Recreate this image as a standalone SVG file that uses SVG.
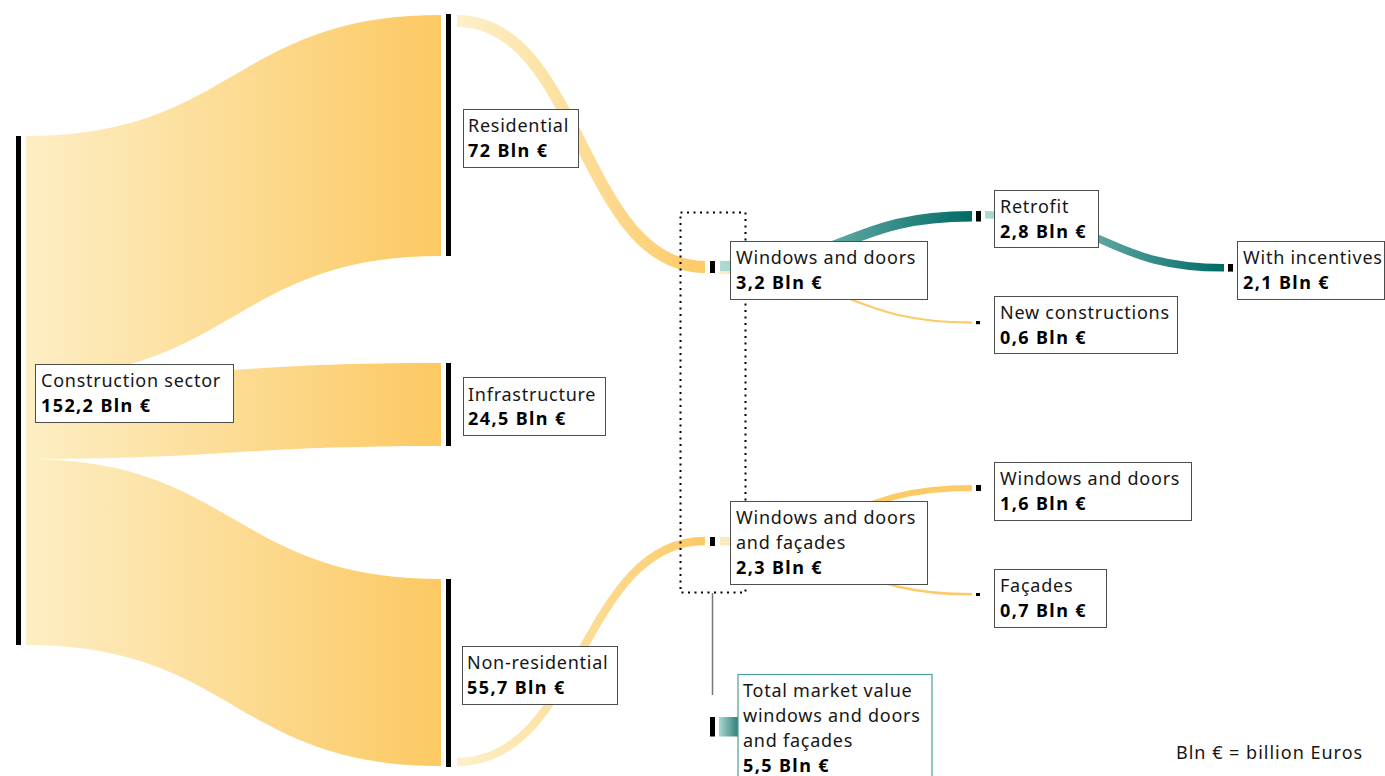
<svg xmlns="http://www.w3.org/2000/svg" width="1385" height="776" viewBox="0 0 1385 776">
  <defs>
    <style>
      .bar { fill: #000; }
      .box { fill: #fff; stroke: #4d4d4d; stroke-width: 1; }
      .box-total { fill: #fff; stroke: #4f9e98; stroke-width: 1.2; }
      .lbl { font-family: "Noto Sans", "DejaVu Sans", sans-serif; font-size: 18px; fill: #161616; letter-spacing: 0.75px; }
      .val { font-weight: 700; letter-spacing: 1.4px; fill: #000; }
      .flow { fill: none; }
      .legend { font-family: "Noto Sans", "DejaVu Sans", sans-serif; font-size: 18px; fill: #161616; letter-spacing: 1px; }
    </style>
    <linearGradient id="gBig" x1="0" y1="0" x2="1" y2="0">
      <stop offset="0" stop-color="#FDEEC4"/>
      <stop offset="1" stop-color="#FCC963"/>
    </linearGradient>
    <linearGradient id="gYellow" x1="0" y1="0" x2="1" y2="0">
      <stop offset="0" stop-color="#FDF0CA"/>
      <stop offset="1" stop-color="#FCCA66"/>
    </linearGradient>
    <linearGradient id="gYellowFast" x1="0" y1="0" x2="1" y2="0">
      <stop offset="0" stop-color="#FDEBBE"/>
      <stop offset="0.35" stop-color="#FCCB68"/>
      <stop offset="1" stop-color="#FCCA66"/>
    </linearGradient>
    <linearGradient id="gTeal" x1="0" y1="0" x2="1" y2="0">
      <stop offset="0" stop-color="#AEDBD3"/>
      <stop offset="1" stop-color="#006A65"/>
    </linearGradient>
    <linearGradient id="gTealStub" x1="0" y1="0" x2="1" y2="0">
      <stop offset="0" stop-color="#A8D8CF"/>
      <stop offset="1" stop-color="#2E807A"/>
    </linearGradient>
  </defs>

  <rect width="1385" height="776" fill="#fff"/>

  <!-- connectors: sankey flows -->
  <g id="connectors">
    <path id="flow-construction-residential" fill="url(#gBig)" d="M26,136 C233.5,136 233.5,15 441,15 L441,256 C233.5,256 233.5,377 26,377 Z"/>
    <path id="flow-construction-infrastructure" fill="url(#gBig)" d="M26,377 C233.5,377 233.5,363 441,363 L441,446 C233.5,446 233.5,459 26,459 Z"/>
    <path id="flow-construction-nonresidential" fill="url(#gBig)" d="M26,459 C233.5,459 233.5,579 441,579 L441,766 C233.5,766 233.5,645 26,645 Z"/>

    <path id="flow-residential-wd" class="flow" stroke="url(#gYellow)" stroke-width="12" d="M457,21 C581,21 581,267 705,267"/>
    <path id="flow-nonresidential-wdf" class="flow" stroke="url(#gYellow)" stroke-width="8.3" d="M457,762 C581,762 581,541 705,541"/>

    <path id="flow-wd-retrofit" class="flow" stroke="url(#gTeal)" stroke-width="10.5" d="M720,266.25 C846,266.25 846,216.25 972,216.25"/>
    <path id="flow-wd-new" class="flow" stroke="url(#gYellowFast)" stroke-width="2.2" d="M720,272.6 C846,272.6 846,322.6 972,322.6"/>
    <path id="flow-retrofit-incentives" class="flow" stroke="url(#gTeal)" stroke-width="7.6" d="M985,214.8 C1104.5,214.8 1104.5,267.8 1224,267.8"/>

    <path id="flow-wdf-wd" class="flow" stroke="url(#gYellowFast)" stroke-width="5.8" d="M720,539.9 C846,539.9 846,488 972,488"/>
    <path id="flow-wdf-facades" class="flow" stroke="url(#gYellowFast)" stroke-width="2.5" d="M720,544.1 C846,544.1 846,594.3 972,594.3"/>

    <rect id="flow-total-stub" x="719" y="717" width="19" height="19.5" fill="url(#gTealStub)"/>

    <!-- grouping frame around the two market segments and its leader to the total -->
    <rect x="680.5" y="212.5" width="65" height="380" fill="none" stroke="#000" stroke-width="2" stroke-dasharray="2 4.5"/>
    <line x1="712.5" y1="593" x2="712.5" y2="695" stroke="#777" stroke-width="1.5"/>
  </g>

  <g id="node-construction">
    <rect class="bar" x="16" y="136" width="5" height="509"/>
    <rect class="box" x="35.5" y="364.5" width="198" height="58"/>
    <text class="lbl" x="41" y="387">Construction sector</text>
    <text class="lbl val" x="41" y="412">152,2 Bln €</text>
  </g>

  <g id="node-residential">
    <rect class="bar" x="446" y="14" width="5" height="242"/>
    <rect class="box" x="463.5" y="109.5" width="115" height="58"/>
    <text class="lbl" x="468" y="132">Residential</text>
    <text class="lbl val" x="468" y="157">72 Bln €</text>
  </g>

  <g id="node-infrastructure">
    <rect class="bar" x="446" y="363" width="5" height="83"/>
    <rect class="box" x="463.5" y="377.5" width="142" height="58"/>
    <text class="lbl" x="468" y="401">Infrastructure</text>
    <text class="lbl val" x="468" y="425">24,5 Bln €</text>
  </g>

  <g id="node-nonresidential">
    <rect class="bar" x="446" y="579" width="5" height="188"/>
    <rect class="box" x="462.5" y="646.5" width="155" height="58"/>
    <text class="lbl" x="467" y="669">Non-residential</text>
    <text class="lbl val" x="467" y="694">55,7 Bln €</text>
  </g>

  <g id="node-windows-doors">
    <rect class="bar" x="710" y="261" width="5" height="12"/>
    <rect class="box" x="730.5" y="241.5" width="197" height="58"/>
    <text class="lbl" x="736" y="264">Windows and doors</text>
    <text class="lbl val" x="736" y="289">3,2 Bln €</text>
  </g>

  <g id="node-windows-doors-facades">
    <rect class="bar" x="710" y="537" width="5" height="9"/>
    <rect class="box" x="730.5" y="501.5" width="197" height="83"/>
    <text class="lbl" x="736" y="524">Windows and doors</text>
    <text class="lbl" x="736" y="549">and façades</text>
    <text class="lbl val" x="736" y="574">2,3 Bln €</text>
  </g>

  <g id="node-retrofit">
    <rect class="bar" x="976" y="211" width="5" height="10.5"/>
    <rect class="box" x="994.5" y="190.5" width="104" height="57"/>
    <text class="lbl" x="1000" y="213">Retrofit</text>
    <text class="lbl val" x="1000" y="238">2,8 Bln €</text>
  </g>

  <g id="node-new-constructions">
    <rect class="bar" x="976" y="321" width="4" height="3.2"/>
    <rect class="box" x="994.5" y="296.5" width="183" height="57"/>
    <text class="lbl" x="1000" y="319">New constructions</text>
    <text class="lbl val" x="1000" y="344">0,6 Bln €</text>
  </g>

  <g id="node-with-incentives">
    <rect class="bar" x="1228" y="264" width="5" height="7.6"/>
    <rect class="box" x="1237.5" y="241.5" width="147" height="58"/>
    <text class="lbl" x="1243" y="264">With incentives</text>
    <text class="lbl val" x="1243" y="289">2,1 Bln €</text>
  </g>

  <g id="node-windows-doors-nonres">
    <rect class="bar" x="976" y="485" width="5" height="6"/>
    <rect class="box" x="994.5" y="462.5" width="197" height="58"/>
    <text class="lbl" x="1000" y="485">Windows and doors</text>
    <text class="lbl val" x="1000" y="510">1,6 Bln €</text>
  </g>

  <g id="node-facades">
    <rect class="bar" x="976" y="593" width="4" height="3"/>
    <rect class="box" x="994.5" y="569.5" width="112" height="58"/>
    <text class="lbl" x="1000" y="592">Façades</text>
    <text class="lbl val" x="1000" y="617">0,7 Bln €</text>
  </g>

  <g id="node-total">
    <rect class="bar" x="710" y="717" width="5" height="19.5"/>
    <rect class="box-total" x="738" y="674.5" width="194" height="110"/>
    <text class="lbl" x="743" y="697">Total market value</text>
    <text class="lbl" x="743" y="722">windows and doors</text>
    <text class="lbl" x="743" y="747">and façades</text>
    <text class="lbl val" x="743" y="772">5,5 Bln €</text>
  </g>

  <g id="legend">
    <text class="legend" x="1176" y="759">Bln € = billion Euros</text>
  </g>
</svg>
